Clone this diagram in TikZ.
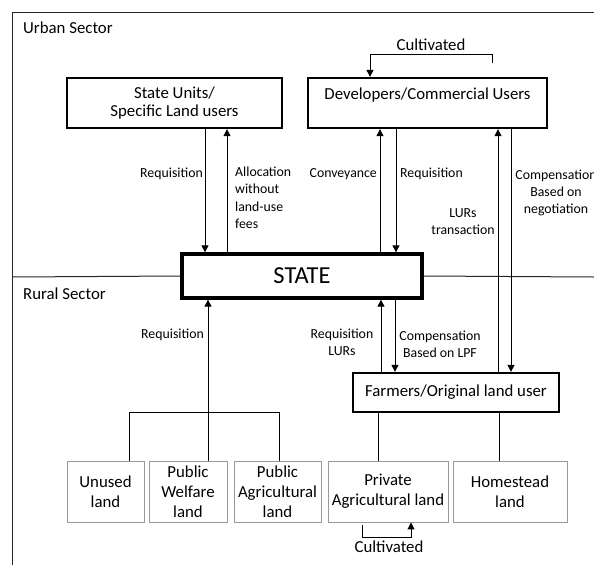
\documentclass[tikz,border=0pt]{standalone}
\usepackage{fontspec}
\setmainfont{Carlito}
\usetikzlibrary{arrows.meta}
\begin{document}
\begin{tikzpicture}[x=1pt,y=-1pt,
  frame/.style={line width=1pt, draw=black!85},
  bigbox/.style={draw, line width=2.3pt, inner sep=0pt, align=center, font=\fontsize{16.8}{18.5}\selectfont},
  statebox/.style={draw, line width=3.3pt, inner sep=0pt, font=\fontsize{24.4}{28}\selectfont},
  landbox/.style={draw=black!40, line width=0.9pt, inner sep=0pt, align=center, minimum height=61pt, font=\fontsize{16.8}{20}\selectfont},
  lbl/.style={inner sep=0pt, font=\fontsize{13.8}{17.2}\selectfont},
  bigl/.style={inner sep=0pt, font=\fontsize{16.8}{20}\selectfont},
  arr/.style={line width=1pt, -{Triangle[length=7pt,width=7pt]}},
  ln/.style={line width=1pt}
]
\useasboundingbox (0,0) rectangle (594,565);
% frame and separator
\draw[frame] (594,12) -- (12,12) -- (12,565);
\node[bigl, anchor=west] (urban) at (23,28) {Urban Sector};
\node[bigl, anchor=west] (rural) at (23,294) {Rural Sector};

% main boxes
\node[bigbox, minimum width=215pt, minimum height=50pt] (su) at (174.5,103) {State Units/\\Specific Land users};
\node[bigbox, minimum width=239pt, minimum height=50pt] (dev) at (427.5,103) {Developers/Commercial Users\\\mbox{}};
\node[statebox, minimum width=240pt, minimum height=44pt] (st) at (302,276) {STATE};
\node[bigbox, minimum width=206pt, minimum height=39pt] (fa) at (456,392.5) {Farmers/Original land user};

\draw[frame] (12,277) -- (st.west);
\draw[frame] (st.east) -- (594,277);

% land boxes
\node[landbox, minimum width=77pt] (un) at (105.5,491.5) {Unused\\land};
\node[landbox, minimum width=78pt] (pw) at (188,491.5) {Public\\Welfare\\land};
\node[landbox, minimum width=87pt] (pa) at (277.5,491.5) {Public\\Agricultural\\land};
\node[landbox, minimum width=120pt] (pr) at (388,491.5) {Private\\Agricultural land};
\node[landbox, minimum width=114pt] (ho) at (510,491.5) {Homestead\\land};

% urban arrows
\draw[arr] (205,0 |- su.south) -- (205,0 |- st.north);
\draw[arr] (227,0 |- st.north) -- (227,0 |- su.south);
\draw[arr] (380,0 |- st.north) -- (380,0 |- dev.south);
\draw[arr] (396,0 |- dev.south) -- (396,0 |- st.north);
\draw[arr] (498,0 |- fa.north) -- (498,0 |- dev.south);
\draw[arr] (511,0 |- dev.south) -- (511,0 |- fa.north);

% cultivated loop top
\coordinate (ct) at (492,63);
\draw[arr] (ct) -- (492,54) -- (370,54) -- (370,0 |- dev.north);
\node[bigl] (cultt) at (431,45) {Cultivated};

% urban labels
\node[lbl, anchor=east] (l1) at (203,174) {Requisition};
\node[lbl, anchor=north west, align=left] (l2) at (235,167) {Allocation\\without\\land-use\\fees};
\node[lbl, anchor=east] (l3) at (377,174) {Conveyance};
\node[lbl, anchor=west] (l4) at (400,174) {Requisition};
\node[lbl, align=center] (l5) at (463,222) {LURs\\transaction};
\node[lbl, align=center] (l6) at (556,193) {Compensation\\Based on\\negotiation};

% rural tree
\draw[arr] (208,0 |- pw.north) -- (208,0 |- st.south);
\coordinate (tl) at (129,412);
\coordinate (tr) at (279,412);
\draw[ln] (129,0 |- un.north) -- (tl) -- (tr) -- (279,0 |- pa.north);
\node[lbl, anchor=east] (l7) at (204,335) {Requisition};

% farmers arrows
\draw[arr] (381,0 |- fa.north) -- (381,0 |- st.south);
\draw[arr] (395,0 |- st.south) -- (395,0 |- fa.north);
\node[lbl, align=center] (l8) at (342,342) {Requisition\\LURs};
\node[lbl, align=center] (l9) at (440,344) {Compensation\\Based on LPF};
\draw[ln] (378,0 |- fa.south) -- (378,0 |- pr.north);
\draw[ln] (499,0 |- fa.south) -- (499,0 |- ho.north);

% cultivated loop bottom
\coordinate (cb) at (362,525);
\draw[arr] (cb) -- (362,537) -- (411,537) -- (411,0 |- pr.south);
\node[bigl] (cultb) at (389,547) {Cultivated};
\end{tikzpicture}
\end{document}
